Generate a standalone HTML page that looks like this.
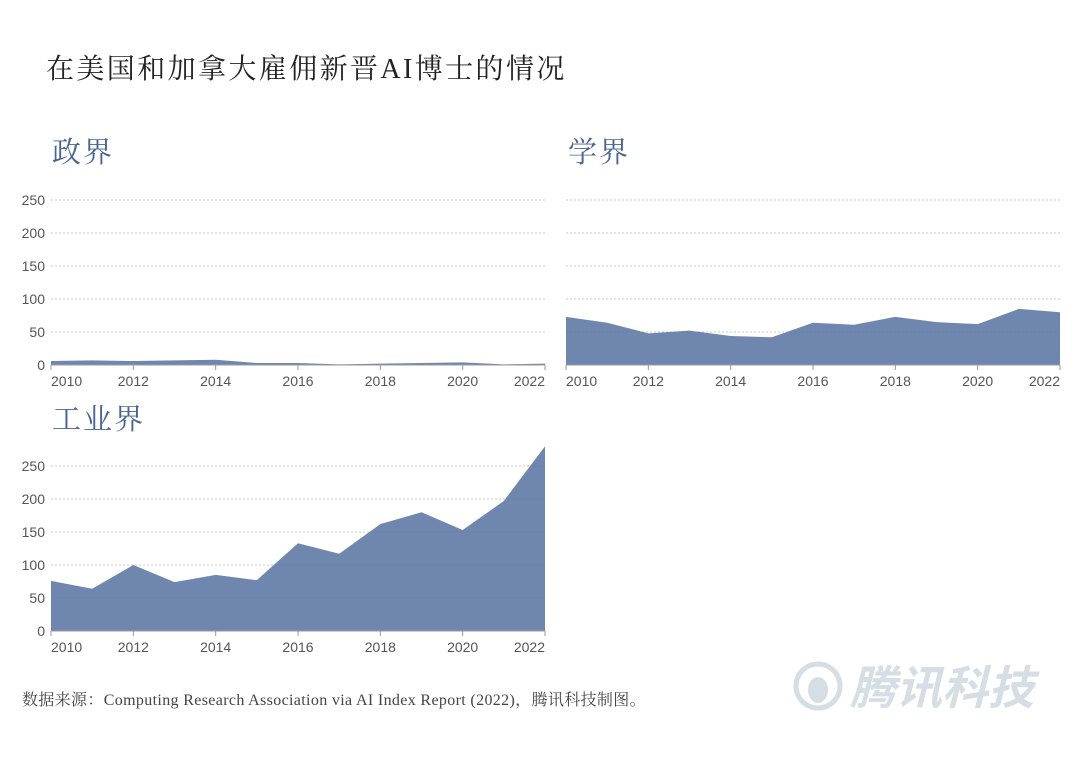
<!DOCTYPE html>
<html><head><meta charset="utf-8">
<style>
body{margin:0;background:#fff;width:1080px;height:759px;overflow:hidden;}
svg{display:block;}
.t{font-family:"Liberation Serif","Noto Serif CJK SC",serif;}
.ax{font-family:"Liberation Sans","Noto Sans CJK SC",sans-serif;font-size:14px;fill:#555;}
</style></head>
<body>
<svg id="c" width="1080" height="759" xmlns="http://www.w3.org/2000/svg">
<text class="t" x="46" y="78" font-size="28" letter-spacing="2.4" fill="#222">在美国和加拿大雇佣新晋AI博士的情况</text>
<text class="t" x="52" y="162" font-size="29" letter-spacing="2" fill="#4a6491">政界</text>
<text class="t" x="568" y="162" font-size="29" letter-spacing="2" fill="#4a6491">学界</text>
<text class="t" x="52" y="429" font-size="29" letter-spacing="2" fill="#4a6491">工业界</text>
<text class="t" x="22" y="705" font-size="16" letter-spacing="0.35" fill="#444">数据来源：Computing Research Association via AI Index Report (2022)，腾讯科技制图。</text>
<g>
<circle cx="818" cy="686" r="22" fill="none" stroke="#d5dde5" stroke-width="5"/>
<ellipse cx="818" cy="690" rx="10" ry="13" fill="#d5dde5"/>
<text x="850" y="704" font-family="'Noto Sans CJK SC',sans-serif" font-weight="bold" font-style="italic" font-size="46" fill="#d5dde5">腾讯科技</text>
</g>
<g id="plots"></g>
</svg>
<script>
const years=[2010,2011,2012,2013,2014,2015,2016,2017,2018,2019,2020,2021,2022];
const govValues=[6,7,6,7,8,3,3,1,2,3,4,1,2];
const acadValues=[73,64,48,52,44,42,64,61,73,65,62,85,80];
const indValues=[76,64,100,74,85,77,133,117,162,180,153,197,280];
const yTicks=[0,50,100,150,200,250];
const xTicks=[2010,2012,2014,2016,2018,2020,2022];
const NS='http://www.w3.org/2000/svg';
const root=document.getElementById('plots');
function mk(tag,attrs,parent){const e=document.createElementNS(NS,tag);for(const k in attrs)e.setAttribute(k,attrs[k]);parent.appendChild(e);return e;}
function panel(name,vals,x0,x1,y0,showY){
  const g=mk('g',{},root);
  
  
  const sx=v=>x0+(v-2010)/(2022-2010)*(x1-x0);
  const sy=v=>y0-v*0.66;
  yTicks.forEach(t=>{
    if(t>0){const l=mk('line',{x1:x0,x2:x1,y1:sy(t),y2:sy(t),stroke:'#c8c8c8','stroke-dasharray':'2,2','stroke-width':1},g);
    
    }
    if(showY){const tx=mk('text',{x:x0-6,y:sy(t)+5,'text-anchor':'end',class:'ax'},g);tx.textContent=t;
    
    }
  });
  let d='M'+sx(years[0])+','+sy(0);
  years.forEach((y,i)=>{d+=' L'+sx(y)+','+sy(vals[i]);});
  d+=' L'+sx(years[years.length-1])+','+sy(0)+' Z';
  const a=mk('path',{d:d,fill:'#5f79a6','fill-opacity':0.9},g);
  
  
  mk('line',{x1:x0,x2:x1,y1:y0,y2:y0,stroke:'#999'},g);
  xTicks.forEach((t,i)=>{
    mk('line',{x1:sx(t),x2:sx(t),y1:y0,y2:y0+5,stroke:'#999'},g);
    const anc=i===0?'start':(i===xTicks.length-1?'end':'middle');
    const tx=mk('text',{x:sx(t),y:y0+21,'text-anchor':anc,class:'ax'},g);tx.textContent=t;
    
    
  });
}
panel('government',govValues,51,545,365,true);
panel('academia',acadValues,566,1060,365,false);
panel('industry',indValues,51,545,631,true);
</script>
</body></html>
